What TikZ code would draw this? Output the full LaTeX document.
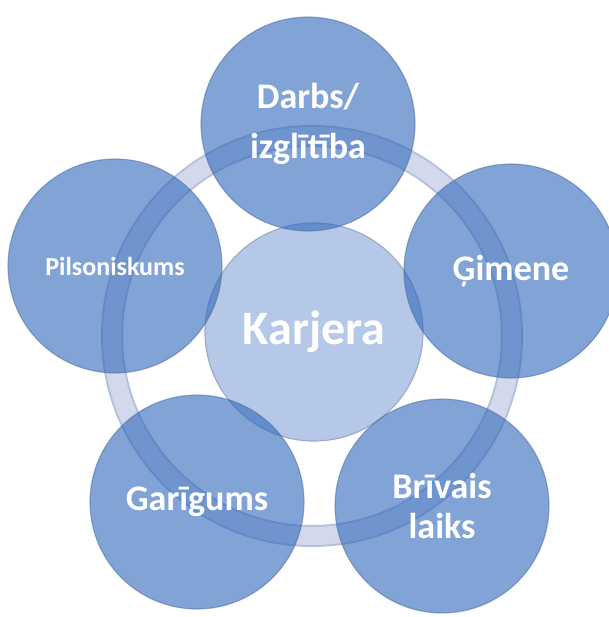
\documentclass[tikz,border=0pt]{standalone}
\usepackage{fontspec}
\setmainfont{Carlito}
\definecolor{ringedge}{HTML}{B6C0DA}
\definecolor{ringfill}{HTML}{D2D9EC}
\definecolor{hubfill}{HTML}{B5C8E8}
\definecolor{hubedge}{HTML}{9DACC8}
\definecolor{petalfill}{RGB}{45,102,187}
\definecolor{petaledge}{HTML}{4D6C9E}

\begin{document}
\begin{tikzpicture}[x=1pt,y=-1pt,
    petal/.style={circle,minimum size=214pt,inner sep=0pt,align=center,
      fill=petalfill,fill opacity=0.6,draw=petaledge,draw opacity=0.5,
      line width=1.2pt,text=white,text opacity=1,
      font=\bfseries\fontsize{36}{50}\selectfont},
    hub/.style={circle,minimum size=218pt,inner sep=0pt,fill=hubfill,
      draw=hubedge,line width=1.2pt,text=white,
      font=\bfseries\fontsize{48}{56}\selectfont}]
  \useasboundingbox (0,0) rectangle (608,617);
  % ring behind everything
  \draw[ringedge,line width=22pt] (312,336) circle (200pt);
  \draw[ringfill,line width=18pt] (312,336) circle (200pt);
  \node[hub] (karjera) at (314,332) {Karjera};
  % the five areas round it
  \node[petal] (darbs) at (308,124) {Darbs/\\izglītība};
  \node[petal] (gimene) at (511,271) {Ģimene};
  \node[petal] (brivais) at (442,506) {Brīvais\\[-10pt]laiks};
  \node[petal] (garigums) at (197,502) {Garīgums};
  \node[petal,font=\bfseries\fontsize{26}{30}\selectfont]
    (pilsoniskums) at (115,266) {Pilsoniskums};
\end{tikzpicture}
\end{document}
